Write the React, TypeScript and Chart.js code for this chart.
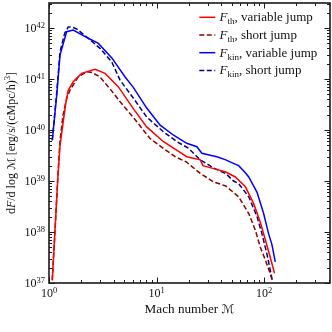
import React, { useEffect, useRef } from "react";
import { Chart, registerables } from "chart.js";

Chart.register(...registerables);

// ---- data ----
const thVarMach = [1.073, 1.137, 1.205, 1.266, 1.43, 1.51, 1.68, 2.01, 2.68, 3.32, 4.42, 6.1, 8.1, 11.6, 15.5, 19.1, 25.5, 27, 34, 44, 54, 67, 80, 92, 103, 114, 125];
const thVarFlux = [1.13e37, 1.07e38, 1.04e39, 5.0e39, 3.3e40, 6.0e40, 8.9e40, 1.29e41, 1.55e41, 1.29e41, 7.0e40, 2.6e40, 1.15e40, 5.9e39, 4.0e39, 3.0e39, 2.6e39, 2.0e39, 1.75e39, 1.5e39, 1.2e39, 7.7e38, 3.6e38, 1.57e38, 6.9e37, 3.2e37, 1.55e37];

const thShortMach = [1.073, 1.137, 1.205, 1.266, 1.35, 1.46, 1.57, 1.87, 2.24, 2.5, 2.98, 3.84, 4.58, 6.56, 8.7, 11.6, 14.9, 18.9, 25.5, 34, 44, 58, 72, 83, 92, 103, 114, 120];
const thShortFlux = [1.13e37, 1.07e38, 1.1e39, 6.3e39, 1.96e40, 4.2e40, 6.1e40, 1.1e41, 1.39e41, 1.35e41, 1.1e41, 5.8e40, 3.6e40, 1.45e40, 6.8e39, 4.35e39, 3.0e39, 2.37e39, 1.41e39, 9.6e38, 8.0e38, 4.9e38, 2.3e38, 1.08e38, 5.1e37, 2.8e37, 1.53e37, 1.05e37];

const kinVarMach = [1.073, 1.18, 1.266, 1.46, 1.68, 2.32, 2.88, 3.84, 5.1, 6.1, 8.1, 10.8, 14.4, 19.1, 23.7, 26.4, 31.6, 36.4, 44, 50, 58, 66, 72, 86, 99, 110, 118, 127];
const kinVarFlux = [6.3e39, 4.8e40, 2.95e41, 8.5e41, 9.1e41, 6.3e41, 5.0e41, 2.6e41, 1.1e41, 6.8e40, 2.7e40, 1.25e40, 7.9e39, 5.5e39, 4.7e39, 3.5e39, 3.2e39, 3.0e39, 2.6e39, 2.3e39, 2.0e39, 1.5e39, 1.2e39, 6.0e38, 2.3e38, 9.3e37, 5.8e37, 2.6e37];

const kinShortMach = [1.073, 1.18, 1.266, 1.4, 1.51, 1.64, 1.81, 2.32, 2.98, 3.84, 4.58, 6.1, 8.1, 11.6, 15.5, 19.8, 25.5, 34, 44, 52, 58, 72, 86, 95.5, 106, 114, 120];
const kinShortFlux = [6.3e39, 5.5e40, 3.4e41, 7.9e41, 1.05e42, 1.04e42, 9.6e41, 6.3e41, 4.0e41, 2.15e41, 9.5e40, 4.2e40, 1.8e40, 9.2e39, 5.9e39, 4.4e39, 2.6e39, 1.8e39, 1.4e39, 1.0e39, 8.9e38, 4.9e38, 2.0e38, 9.3e37, 3.8e37, 1.8e37, 1.05e37];

const xMajorTicks = [1, 10, 100];
const xTickExps = ["0", "1", "2"];
const yMajorTicks = [1e37, 1e38, 1e39, 1e40, 1e41, 1e42];
const yTickExps = ["37", "38", "39", "40", "41", "42"];

const seriesSymbols = ["F", "F", "F", "F"];
const seriesSubs = ["th", "th", "kin", "kin"];
const seriesTexts = [", variable jump", ", short jump", ", variable jump", ", short jump"];
const seriesColors = ["#ff0000", "#8b0000", "#0000ff", "#00008b"];
const seriesDashed = [false, true, false, true];

const X_MIN = 1;
const X_MAX = 410;
const Y_MIN = 1e37;
const Y_MAX = 3.1e42;

const FAMILY = '"Liberation Serif", "DejaVu Serif", serif';
const CAL_FAMILY = '"DejaVu Serif", "DejaVu Sans", serif';
const DASH = [5, 2.5];

type Seg = { t: string; s: "rm" | "it" | "sub" | "sup" | "cal" };

function segFont(s: Seg["s"], base: number, small: number) {
  if (s === "it") return `italic ${base}px ${FAMILY}`;
  if (s === "sub" || s === "sup") return `${small}px ${FAMILY}`;
  if (s === "cal") return `italic ${base * 0.92}px ${CAL_FAMILY}`;
  return `${base}px ${FAMILY}`;
}

function segDy(s: Seg["s"], base: number) {
  if (s === "sub") return base * 0.22;
  if (s === "sup") return -base * 0.34;
  return 0;
}

function richWidth(ctx: CanvasRenderingContext2D, segs: Seg[], base: number, small: number) {
  let w = 0;
  for (const sg of segs) {
    ctx.font = segFont(sg.s, base, small);
    w += ctx.measureText(sg.t).width;
  }
  return w;
}

function drawRich(
  ctx: CanvasRenderingContext2D,
  segs: Seg[],
  x: number,
  y: number,
  align: "left" | "right" | "center",
  base: number,
  small: number
) {
  const w = richWidth(ctx, segs, base, small);
  let cx = align === "left" ? x : align === "right" ? x - w : x - w / 2;
  ctx.textAlign = "left";
  ctx.textBaseline = "alphabetic";
  for (const sg of segs) {
    ctx.font = segFont(sg.s, base, small);
    ctx.fillText(sg.t, cx, y + segDy(sg.s, base));
    cx += ctx.measureText(sg.t).width;
  }
}

function minorTicks(lo: number, hi: number) {
  const out: number[] = [];
  for (let e = Math.floor(Math.log10(lo)); e <= Math.ceil(Math.log10(hi)); e++) {
    for (let k = 2; k <= 9; k++) {
      const v = k * Math.pow(10, e);
      if (v >= lo && v <= hi) out.push(v);
    }
  }
  return out;
}

const decorPlugin = {
  id: "decor",
  afterDraw(chart: any) {
    const ctx: CanvasRenderingContext2D = chart.ctx;
    const { left, right, top, bottom } = chart.chartArea;
    const xs = chart.scales.x;
    const ys = chart.scales.y;
    ctx.save();
    ctx.strokeStyle = "#1a1a1a";
    ctx.fillStyle = "#111";

    // ticks
    const majLen = 5.5;
    const minLen = 3;
    ctx.lineWidth = 1;
    ctx.beginPath();
    const xTick = (v: number, len: number) => {
      const p = Math.round(xs.getPixelForValue(v)) + 0.5;
      ctx.moveTo(p, bottom);
      ctx.lineTo(p, bottom - len);
      ctx.moveTo(p, top);
      ctx.lineTo(p, top + len);
    };
    const yTick = (v: number, len: number) => {
      const p = Math.round(ys.getPixelForValue(v)) + 0.5;
      ctx.moveTo(left, p);
      ctx.lineTo(left + len, p);
      ctx.moveTo(right, p);
      ctx.lineTo(right - len, p);
    };
    xMajorTicks.forEach((v) => xTick(v, majLen));
    minorTicks(X_MIN, X_MAX).forEach((v) => xTick(v, minLen));
    yMajorTicks.forEach((v) => yTick(v, majLen));
    minorTicks(Y_MIN, Y_MAX).forEach((v) => yTick(v, minLen));
    ctx.stroke();

    // frame
    ctx.lineWidth = 1.6;
    ctx.strokeRect(left, top, right - left, bottom - top);

    // tick labels
    xMajorTicks.forEach((v, i) => {
      const p = xs.getPixelForValue(v);
      drawRich(ctx, [{ t: "10", s: "rm" }, { t: xTickExps[i], s: "sup" }], p, bottom + 14, "center", 12, 8.5);
    });
    yMajorTicks.forEach((v, i) => {
      const p = ys.getPixelForValue(v);
      drawRich(ctx, [{ t: "10", s: "rm" }, { t: yTickExps[i], s: "sup" }], left - 4, p + 4, "right", 12, 8.5);
    });

    // x label
    drawRich(
      ctx,
      [{ t: "Mach number ", s: "rm" }, { t: "\u2133", s: "cal" }],
      (left + right) / 2,
      bottom + 30,
      "center",
      13.2,
      9
    );

    // y label
    ctx.save();
    ctx.translate(14.5, (top + bottom) / 2);
    ctx.rotate(-Math.PI / 2);
    drawRich(
      ctx,
      [
        { t: "d", s: "rm" },
        { t: "F", s: "it" },
        { t: "/d log ", s: "rm" },
        { t: "\u2133", s: "cal" },
        { t: " [erg/s/(cMpc/h)", s: "rm" },
        { t: "3", s: "sup" },
        { t: "]", s: "rm" },
      ],
      0,
      0,
      "center",
      12,
      8.5
    );
    ctx.restore();

    // legend
    const rowY = [17.3, 35, 52.7, 70.4];
    for (let i = 0; i < 4; i++) {
      const yy = rowY[i];
      ctx.save();
      ctx.strokeStyle = seriesColors[i];
      ctx.lineWidth = 1.5;
      ctx.setLineDash(seriesDashed[i] ? DASH : []);
      ctx.beginPath();
      ctx.moveTo(199.3, yy);
      ctx.lineTo(215.3, yy);
      ctx.stroke();
      ctx.restore();
      drawRich(
        ctx,
        [
          { t: seriesSymbols[i], s: "it" },
          { t: seriesSubs[i], s: "sub" },
          { t: seriesTexts[i], s: "rm" },
        ],
        219.5,
        yy + 4,
        "left",
        13,
        9
      );
    }
    ctx.restore();
  },
};

function pts(mach: number[], flux: number[]) {
  return mach.map((m, i) => ({ x: m, y: flux[i] }));
}

export default function App() {
  const ref = useRef<HTMLCanvasElement | null>(null);
  useEffect(() => {
    if (!ref.current) return;
    const mk = (i: number, mach: number[], flux: number[]) => ({
      label: seriesSymbols[i] + seriesSubs[i] + seriesTexts[i],
      data: pts(mach, flux),
      borderColor: seriesColors[i],
      backgroundColor: seriesColors[i],
      borderWidth: 1.5,
      borderDash: seriesDashed[i] ? DASH : [],
      pointRadius: 0,
      tension: 0,
      fill: false,
    });
    const chart = new Chart(ref.current, {
      type: "line",
      data: {
        datasets: [
          mk(0, thVarMach, thVarFlux),
          mk(1, thShortMach, thShortFlux),
          mk(2, kinVarMach, kinVarFlux),
          mk(3, kinShortMach, kinShortFlux),
        ],
      },
      options: {
        animation: false,
        responsive: false,
        maintainAspectRatio: false,
        devicePixelRatio: 1,
        layout: { padding: { left: 49, top: 3, right: 2, bottom: 49 } },
        scales: {
          x: { type: "logarithmic", display: false, min: X_MIN, max: X_MAX },
          y: { type: "logarithmic", display: false, min: Y_MIN, max: Y_MAX },
        },
        plugins: { legend: { display: false }, tooltip: { enabled: false } },
      },
      plugins: [decorPlugin],
    } as any);
    return () => chart.destroy();
  }, []);
  return (
    <div style={{ position: "fixed", left: 0, top: 0, width: 332, height: 332, background: "#fff" }}>
      <canvas ref={ref} width={332} height={332} style={{ display: "block", width: 332, height: 332 }} />
    </div>
  );
}
